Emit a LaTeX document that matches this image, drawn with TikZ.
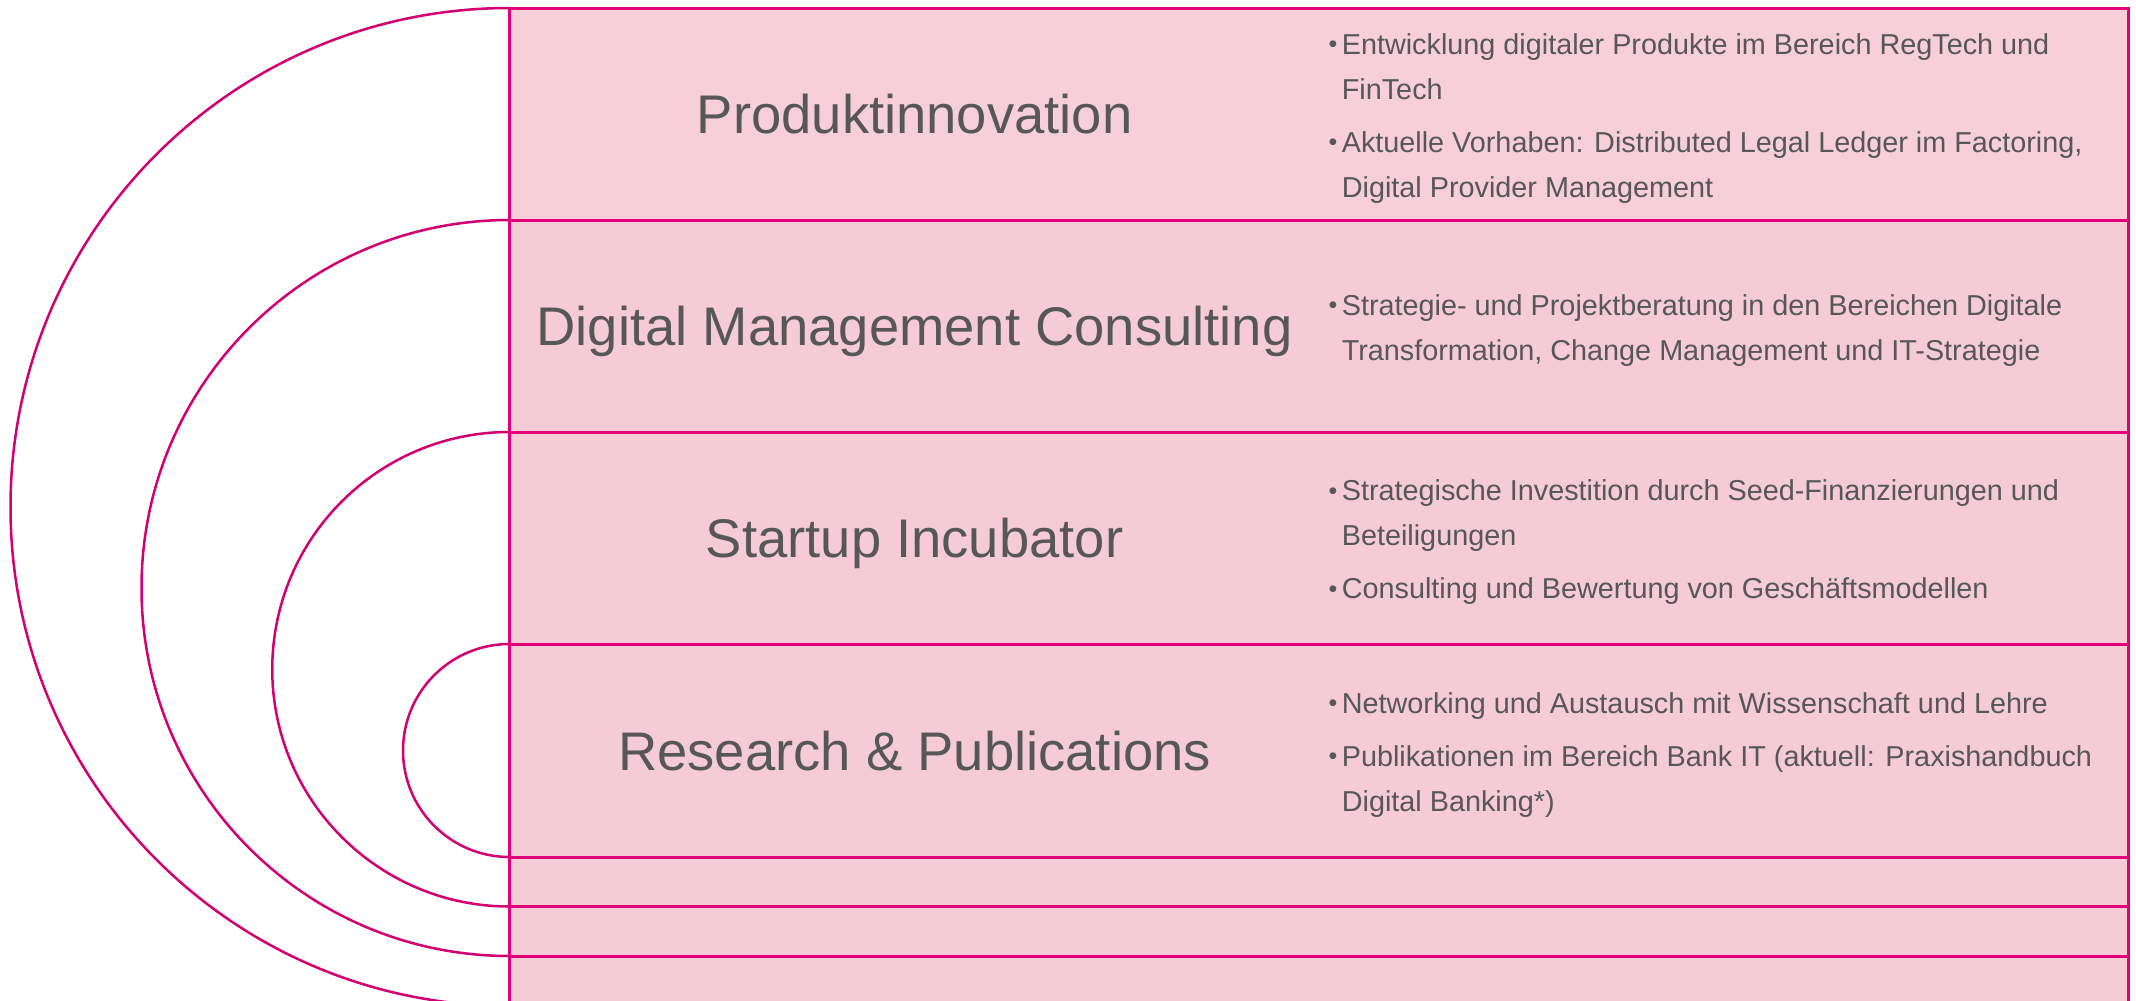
\documentclass[tikz,border=0pt]{standalone}
\usepackage{fontspec}
\setmainfont{Liberation Sans}
\definecolor{mag}{HTML}{E2007A}
\definecolor{magarc}{HTML}{D20070}
\definecolor{rowfill}{HTML}{F5CBD7}
\definecolor{rowfilltop}{HTML}{F6CFDA}
\definecolor{txt}{HTML}{575757}
\newcommand\bul{\makebox[6.2pt][l]{\hspace*{-0.4pt}\raisebox{0.8pt}{\fontsize{12.5}{10}\selectfont •}}}
\newcommand\cnt{\hspace*{6.2pt}}
\tikzset{
  rowbox/.style={draw=mag, line width=1.5pt, fill=rowfill, inner sep=0pt, outer sep=0pt,
    minimum width=809.25pt, anchor=north west},
  arcline/.style={draw=magarc, line width=1.25pt},
  titletext/.style={text=txt, inner sep=0pt, anchor=base, font=\fontsize{27.2}{32}\selectfont},
  bullettext/.style={text=txt, inner sep=0pt, anchor=west, align=left, font=\fontsize{14.4}{22.5}\selectfont}
}
\begin{document}
\begin{tikzpicture}[x=0.5pt,y=-0.5pt]
\useasboundingbox (0,0) rectangle (2136,1001);
\clip (0,0) rectangle (2136,1001);
\fill[white] (0,0) rectangle (2136,1001);
% rows
\node[rowbox, fill=rowfilltop, minimum height=106pt] (r1) at (509.5,8) {};
\node[rowbox, minimum height=106pt] (r2) at (509.5,220) {};
\node[rowbox, minimum height=106pt] (r3) at (509.5,432) {};
\node[rowbox, minimum height=106.5pt] (r4) at (509.5,644) {};
\node[rowbox, minimum height=24.75pt] (r5) at (509.5,857) {};
\node[rowbox, minimum height=24.75pt] (r6) at (509.5,906.5) {};
\node[rowbox, minimum height=25pt] (r7) at (509.5,956) {};
% arcs
\draw[arcline] (r4.north west) arc[start angle=90, end angle=270, radius=53.25pt];
\draw[arcline] (r3.north west) arc[start angle=90, end angle=270, radius=118.625pt];
\draw[arcline] (r2.north west) arc[start angle=90, end angle=270, radius=184pt];
\draw[arcline] (r1.north west) arc[start angle=90, end angle=270, radius=249.5pt];
% titles
\node[titletext] (t1) at (914.6,133.8) {Produktinnovation};
\node[titletext] (t2) at (914.6,345.8) {Digital Management Consulting};
\node[titletext] (t3) at (914.6,557.8) {Startup Incubator};
\node[titletext] (t4) at (914.6,770.3) {Research \& Publications};
% bullets
\node[bullettext] (b1) at (1329,118.5) {\bul Entwicklung digitaler Produkte im Bereich RegTech und\\\cnt FinTech\\[4pt]\bul Aktuelle Vorhaben: Distributed Legal Ledger im Factoring,\\\cnt Digital Provider Management};
\node[bullettext] (b2) at (1329,330.5) {\bul Strategie- und Projektberatung in den Bereichen Digitale\\\cnt Transformation, Change Management und IT-Strategie};
\node[bullettext] (b3) at (1329,542.5) {\bul Strategische Investition durch Seed-Finanzierungen und\\\cnt Beteiligungen\\[4pt]\bul Consulting und Bewertung von Geschäftsmodellen};
\node[bullettext] (b4) at (1329,755) {\bul Networking und Austausch mit Wissenschaft und Lehre\\[4pt]\bul Publikationen im Bereich Bank IT (aktuell: Praxishandbuch\\\cnt Digital Banking*)};
\end{tikzpicture}
\end{document}
